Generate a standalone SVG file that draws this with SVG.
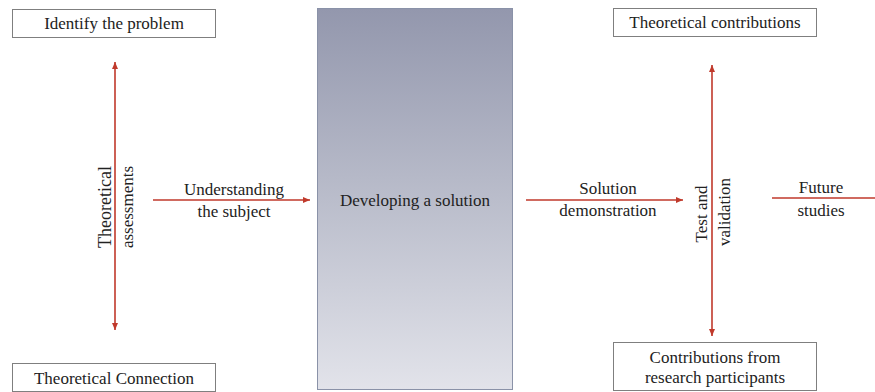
<svg xmlns="http://www.w3.org/2000/svg" width="875" height="392" viewBox="0 0 875 392" font-family="Liberation Serif, Times New Roman, serif">
<defs>
<linearGradient id="g" x1="0" y1="0" x2="0" y2="1">
<stop offset="0" stop-color="#9397ad"/>
<stop offset="0.5" stop-color="#babdcb"/>
<stop offset="1" stop-color="#e2e3ea"/>
</linearGradient>
<marker id="ah" markerWidth="8" markerHeight="8" refX="7" refY="4" orient="auto-start-reverse" markerUnits="userSpaceOnUse">
<path d="M0,1 L7,4 L0,7 Z" fill="#c0392b"/>
</marker>
<style>
.box{fill:#fff;stroke:#7f7f7f;stroke-width:1}
.t{font-size:17px;fill:#222;text-anchor:middle}
.c{stroke:#c0392b;stroke-width:1.6;fill:none}
</style>
</defs>
<rect width="875" height="392" fill="#fff"/>
<g id="identify">
<rect class="box" x="12.5" y="9.5" width="203" height="28"/>
<text class="t" x="114" y="29">Identify the problem</text>
</g>
<g id="connection">
<rect class="box" x="12.5" y="363.5" width="203" height="28"/>
<text class="t" x="114" y="384">Theoretical Connection</text>
</g>
<g id="developing">
<rect x="317.5" y="8.5" width="195" height="381" fill="url(#g)" stroke="#8a92a8" stroke-width="1"/>
<text class="t" x="415" y="206">Developing a solution</text>
</g>
<g id="contributions">
<rect class="box" x="613.5" y="8.5" width="203" height="28"/>
<text class="t" x="715" y="28">Theoretical contributions</text>
</g>
<g id="participants">
<rect class="box" x="613.5" y="342.5" width="203" height="48"/>
<text class="t" x="715" y="363">Contributions from</text>
<text class="t" x="715" y="383">research participants</text>
</g>
<g id="connectors">
<line class="c" x1="115" y1="330" x2="115" y2="62" marker-start="url(#ah)" marker-end="url(#ah)"/>
<line class="c" x1="153" y1="200" x2="310" y2="200" marker-end="url(#ah)"/>
<line class="c" x1="526" y1="200" x2="683" y2="200" marker-end="url(#ah)"/>
<line class="c" x1="712" y1="336" x2="712" y2="65" marker-start="url(#ah)" marker-end="url(#ah)"/>
<line class="c" x1="772" y1="198" x2="875" y2="198" stroke="#d06a6a"/>
<text class="t" x="234" y="195">Understanding</text>
<text class="t" x="234" y="217">the subject</text>
<text class="t" x="608" y="194">Solution</text>
<text class="t" x="608" y="216">demonstration</text>
<text class="t" x="821" y="193">Future</text>
<text class="t" x="821" y="216">studies</text>
<text class="t" style="font-size:18px" transform="translate(111,207) rotate(-90)">Theoretical</text>
<text class="t" transform="translate(133,207) rotate(-90)">assessments</text>
<text class="t" transform="translate(707,214) rotate(-90)">Test and</text>
<text class="t" transform="translate(730,212) rotate(-90)">validation</text>
</g>
</svg>
